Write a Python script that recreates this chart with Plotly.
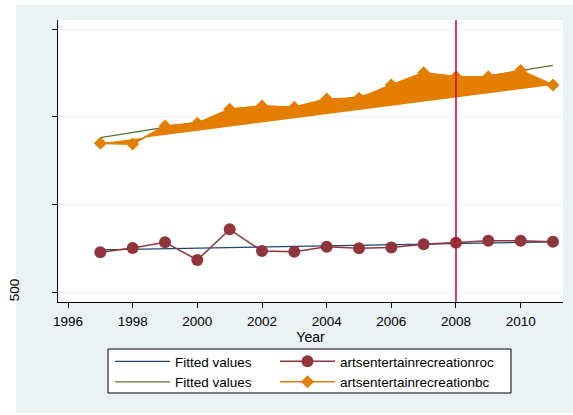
import numpy as np
import plotly.graph_objects as go

# Annual series
years = [1997, 1998, 1999, 2000, 2001, 2002, 2003, 2004, 2005, 2006, 2007, 2008, 2009, 2010, 2011]
roc = [727, 751, 784, 683, 858, 734, 730, 759, 750, 755, 773, 782, 793, 793, 787]
bc = [1350, 1346, 1449, 1464, 1544, 1563, 1555, 1603, 1607, 1683, 1753, 1730, 1730, 1765, 1683]

x_ticks = [1996, 1998, 2000, 2002, 2004, 2006, 2008, 2010]
y_ticks = [500, 1000, 1500, 2000]
y_ticktext = ["500", "", "", ""]
break_year = 2008

# Linear fitted values (OLS on year)
xa = np.array(years, dtype=float)
fit_roc = np.polyval(np.polyfit(xa, roc, 1), xa)
fit_bc = np.polyval(np.polyfit(xa, bc, 1), xa)

NAVY = "#1a476f"
MAROON = "#90353b"
GREEN = "#55752f"
ORANGE = "#e37e00"
BG = "#eaf2f3"
FONT = "Liberation Sans, Arial, sans-serif"

fig = go.Figure()
fig.add_trace(go.Scatter(x=years, y=fit_roc, mode="lines", name="Fitted values",
                         line=dict(color=NAVY, width=1.3), legend="legend"))
fig.add_trace(go.Scatter(x=years, y=roc, mode="lines+markers", name="artsentertainrecreationroc",
                         line=dict(color=MAROON, width=1.5),
                         marker=dict(symbol="circle", size=12, color=MAROON), legend="legend2"))
fig.add_trace(go.Scatter(x=years, y=fit_bc, mode="lines", name="Fitted values",
                         line=dict(color=GREEN, width=1.3), legend="legend"))
# closed polygon of the bc series
fig.add_trace(go.Scatter(x=years, y=bc, mode="lines", fill="toself", fillcolor=ORANGE,
                         line=dict(color=ORANGE, width=1.5), showlegend=False, hoverinfo="skip"))
fig.add_trace(go.Scatter(x=years, y=bc, mode="lines+markers", name="artsentertainrecreationbc",
                         line=dict(color=ORANGE, width=1.5),
                         marker=dict(symbol="diamond", size=10, color=ORANGE), legend="legend2"))

legend_common = dict(
    orientation="v", xref="paper", yref="paper", xanchor="left", yanchor="top",
    bgcolor="rgba(0,0,0,0)", borderwidth=0, itemwidth=55,
    font=dict(family=FONT, size=13.5), traceorder="normal",
)

fig.update_layout(
    width=573, height=415,
    margin=dict(l=58, r=10, t=20, b=113, autoexpand=False),
    paper_bgcolor="white",
    plot_bgcolor="white",
    font=dict(family=FONT, size=14, color="black"),
    shapes=[
        dict(type="rect", xref="paper", yref="paper", x0=-0.0832, x1=1.03, y0=-0.394, y1=1.0532,
             fillcolor=BG, line=dict(width=0), layer="below"),
        dict(type="rect", xref="paper", yref="paper", x0=0, x1=1, y0=0, y1=1,
             fillcolor="white", line=dict(width=0), layer="below"),
        # legend frame
        dict(type="rect", xref="paper", yref="paper", x0=0.099, x1=0.897, y0=-0.3227, y1=-0.1667,
             fillcolor="white", line=dict(color="black", width=1), layer="below"),
        dict(type="line", xref="x", yref="paper", x0=break_year, x1=break_year, y0=0, y1=1,
             line=dict(color="#cc0033", width=1.5), layer="above"),
    ],
    legend=dict(legend_common, x=(110 - 58) / 505, y=(302 - 346) / 282),
    legend2=dict(legend_common, x=(275 - 58) / 505, y=(302 - 346) / 282),
)

fig.update_xaxes(
    range=[1995.69, 2011.31], tickvals=x_ticks, showgrid=False, zeroline=False,
    showline=True, linecolor="black", linewidth=1.2,
    ticks="outside", ticklen=5, tickcolor="black",
    tickfont=dict(size=13.5), ticklabelstandoff=2,
    title=dict(text="Year", standoff=0, font=dict(size=14)),
)
fig.update_yaxes(
    range=[443, 2054], tickvals=y_ticks, ticktext=y_ticktext, tickangle=-90,
    showgrid=True, gridcolor=BG, gridwidth=1, zeroline=False,
    showline=True, linecolor="black", linewidth=1.2,
    ticks="outside", ticklen=5, tickcolor="black",
    tickfont=dict(size=13.5), ticklabelstandoff=28,
)

fig.write_html("out.html")
